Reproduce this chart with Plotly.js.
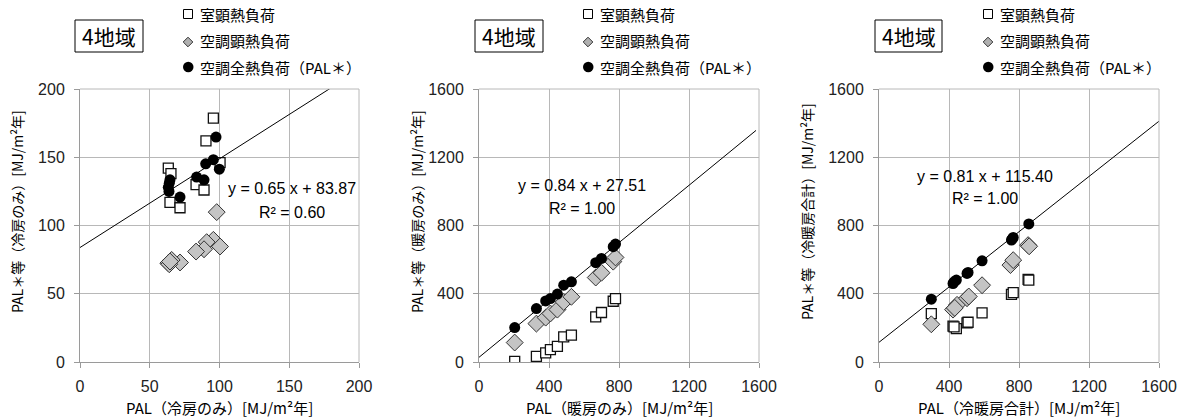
<!DOCTYPE html>
<html><head><meta charset="utf-8">
<script src="https://cdn.plot.ly/plotly-3.0.1.min.js"></script>
<style>html,body{margin:0;padding:0;background:#fff;}#c{width:1188px;height:420px;}</style>
</head><body><div id="c"></div>
<script>
// Panel 1: cooling only
const p1SqX = [95.6, 90.3, 100.4, 63.3, 65.2, 83.2, 88.9, 64.5, 71.7];
const p1SqY = [178.7, 162, 146, 142, 138, 130, 126, 117, 113];
const p1DiX = [98, 95.6, 90.8, 100.4, 88.9, 83.2, 71.7, 65.7, 63.3, 64.0, 64.5];
const p1DiY = [109.8, 89.5, 87.8, 84.6, 82.6, 80.9, 72.9, 74.8, 72.4, 71.6, 73.6];
const p1CiX = [97.5, 95.6, 90.1, 99.9, 83.6, 88.9, 64.5, 64.0, 63.3, 63.8, 71.7];
const p1CiY = [164.8, 148.2, 145.2, 141.3, 135.5, 133.5, 133.5, 131, 128, 125, 120.8];
const p1Fit = {slope: 0.65, intercept: 83.87, r2: "0.60", xEnd: 200};
// Panel 2: heating only
const p2X   = [204, 328, 381, 408, 448, 484, 528, 667, 700, 767, 780];
const p2SqY = [4, 33, 53, 72, 92, 147, 157, 264, 290, 356, 372];
const p2DiY = [114, 225, 260, 284, 307, 352, 382, 495, 523, 588, 613];
const p2CiY = [202, 313, 358, 372, 398, 450, 470, 582, 607, 676, 691];
const p2Fit = {slope: 0.84, intercept: 27.51, r2: "1.00", xEnd: 1583};
// Panel 3: heating + cooling total
const p3SqX = [299, 423, 442, 503, 509, 589, 757, 767, 852, 856, 429];
const p3SqY = [284, 210, 196, 229, 233, 288, 396, 407, 484, 480, 206];
const p3DiX = [299, 423, 446, 503, 513, 589, 751, 767, 852, 858, 433];
const p3DiY = [221, 307, 335, 374, 384, 450, 568, 597, 685, 678, 317];
const p3CiX = [299, 423, 442, 503, 509, 589, 757, 767, 856, 429, 763];
const p3CiY = [368, 460, 480, 519, 525, 593, 715, 730, 809, 470, 723];
const p3Fit = {slope: 0.81, intercept: 115.40, r2: "1.00", xEnd: 1600};

const seriesNames = ["室顕熱負荷", "空調顕熱負荷", "空調全熱負荷（PAL＊）"];
const xTitles = ["PAL（冷房のみ）[MJ/m²年]", "PAL（暖房のみ）[MJ/m²年]", "PAL（冷暖房合計）[MJ/m²年]"];
const yTitles = ["PAL＊等（冷房のみ）[MJ/m²年]", "PAL＊等（暖房のみ）[MJ/m²年]", "PAL＊等（冷暖房合計）[MJ/m²年]"];
const regionLabel = "4地域";
const ranges = [[0, 200], [0, 1600], [0, 1600]];
const dticks = [50, 400, 400];

const W = 1188, H = 420, T = 89, B = 58, PH = H - T - B;
const panelsPx = [[80, 359], [479, 759], [879, 1159]];
const py = p => (H - B - p) / PH;
const pxx = p => p / W;

const panels = [
  {sx: p1SqX, sy: p1SqY, dx: p1DiX, dy: p1DiY, cx: p1CiX, cy: p1CiY, fit: p1Fit},
  {sx: p2X, sy: p2SqY, dx: p2X, dy: p2DiY, cx: p2X, cy: p2CiY, fit: p2Fit},
  {sx: p3SqX, sy: p3SqY, dx: p3DiX, dy: p3DiY, cx: p3CiX, cy: p3CiY, fit: p3Fit}
];

const data = [];
const layout = {
  width: W, height: H, margin: {l: 0, r: 0, t: T, b: B},
  paper_bgcolor: "#fff", plot_bgcolor: "#fff", showlegend: false,
  annotations: [], shapes: []
};
const tickFont = {family: "Liberation Sans, Arial, sans-serif", size: 16, color: "#222"};
const cjk = "Noto Sans CJK JP, sans-serif";

panels.forEach((p, i) => {
  const xa = i === 0 ? "x" : "x" + (i + 1);
  const ya = i === 0 ? "y" : "y" + (i + 1);
  const common = {xaxis: xa, yaxis: ya, mode: "markers", type: "scatter", hoverinfo: "skip"};
  data.push(Object.assign({}, common, {x: p.sx, y: p.sy, name: seriesNames[0],
    marker: {symbol: "square", size: 10, color: "#fff", line: {color: "#111", width: 1.3}}}));
  data.push(Object.assign({}, common, {x: p.dx, y: p.dy, name: seriesNames[1],
    marker: {symbol: "diamond", size: 13, color: "#c4c4c4", line: {color: "#333", width: 1}}}));
  data.push(Object.assign({}, common, {x: p.cx, y: p.cy, name: seriesNames[2],
    marker: {symbol: "circle", size: 11, color: "#000", line: {color: "#000", width: 0}}}));
  const fx = [0, p.fit.xEnd];
  data.push({xaxis: xa, yaxis: ya, type: "scatter", mode: "lines", hoverinfo: "skip",
    x: fx, y: fx.map(v => p.fit.slope * v + p.fit.intercept),
    line: {color: "#000", width: 1}});

  const [l, r] = panelsPx[i];
  const axBase = {
    showgrid: true, gridcolor: "#b8b8b8", gridwidth: 1, zeroline: false,
    showline: true, linecolor: "#9a9a9a", linewidth: 1, mirror: false,
    ticks: "outside", ticklen: 5, tickcolor: "#9a9a9a", tickfont: tickFont,
    fixedrange: true
  };
  layout["xaxis" + (i === 0 ? "" : i + 1)] = Object.assign({}, axBase, {
    domain: [l / W, r / W], range: ranges[i], dtick: dticks[i], tick0: 0,
    anchor: ya, ticklabelstandoff: 5
  });
  layout["yaxis" + (i === 0 ? "" : i + 1)] = Object.assign({}, axBase, {
    domain: [0, 1], range: ranges[i], dtick: dticks[i], tick0: 0,
    anchor: xa, ticklabelstandoff: 6
  });
  layout.shapes.push({type: "line", xref: "paper", yref: "paper", x0: r / W, x1: r / W, y0: 0, y1: 1,
    line: {color: "#b8b8b8", width: 1}});
  layout.shapes.push({type: "line", xref: "paper", yref: "paper", x0: l / W, x1: r / W, y0: 1, y1: 1,
    line: {color: "#b8b8b8", width: 1}});

  const off = i * 400;
  const bx0 = 75 + off, bx1 = (i === 2 ? 942 : 143 + off);
  layout.shapes.push({type: "rect", xref: "paper", yref: "paper",
    x0: bx0 / W, x1: bx1 / W, y0: py(52), y1: py(20), line: {color: "#000", width: 1}});
  layout.annotations.push({xref: "paper", yref: "paper", x: (bx0 + bx1) / 2 / W, y: py(36),
    text: regionLabel, showarrow: false, xanchor: "center", yanchor: "middle",
    font: {family: cjk, size: 21, color: "#000"}});
  // legend symbols (drawn as shapes)
  const lx = 183 + (i === 2 ? 800 : off);
  layout.shapes.push({type: "rect", xref: "paper", yref: "paper",
    x0: pxx(lx + 0.5), x1: pxx(lx + 9.5), y0: py(18.5), y1: py(9.5),
    line: {color: "#000", width: 1}, fillcolor: "#fff"});
  const dcx = lx + 5, dcy = 42, dh = 4.8;
  layout.shapes.push({type: "path", xref: "paper", yref: "paper",
    path: `M ${pxx(dcx - dh)} ${py(dcy)} L ${pxx(dcx)} ${py(dcy - dh)} L ${pxx(dcx + dh)} ${py(dcy)} L ${pxx(dcx)} ${py(dcy + dh)} Z`,
    line: {color: "#333", width: 1}, fillcolor: "#b0b0b0"});
  layout.shapes.push({type: "circle", xref: "paper", yref: "paper",
    x0: pxx(lx), x1: pxx(lx + 10.5), y0: py(72.3), y1: py(61.8),
    line: {color: "#000", width: 0}, fillcolor: "#000"});
  const tx = lx + 15;
  layout.annotations.push({xref: "paper", yref: "paper", x: tx / W, y: py(14), xanchor: "left", yanchor: "middle",
    text: seriesNames[0], showarrow: false, font: {family: cjk, size: 15, color: "#000"}});
  layout.annotations.push({xref: "paper", yref: "paper", x: tx / W, y: py(41), xanchor: "left", yanchor: "middle",
    text: seriesNames[1], showarrow: false, font: {family: cjk, size: 15, color: "#000"}});
  layout.annotations.push({xref: "paper", yref: "paper", x: tx / W, y: py(67), xanchor: "left", yanchor: "middle",
    text: seriesNames[2], showarrow: false, font: {family: cjk, size: 15, color: "#000"}});
  // axis titles
  layout.annotations.push({xref: "paper", yref: "paper", x: (l + r) / 2 / W, y: py(407), xanchor: "center", yanchor: "middle",
    text: xTitles[i], showarrow: false, font: {family: cjk, size: 15, color: "#000"}});
  layout.annotations.push({xref: "paper", yref: "paper", x: (17 + (i === 2 ? 790 : off)) / W, y: py(212), xanchor: "center", yanchor: "middle",
    text: yTitles[i], textangle: -90, showarrow: false, font: {family: cjk, size: 14, color: "#000"}});
  // fit equations
  const eqPos = [[292, 188, 212], [582, 185, 208], [985, 176, 198]][i];
  const sign = p.fit.intercept >= 0 ? "+" : "-";
  layout.annotations.push({xref: "paper", yref: "paper", x: eqPos[0] / W, y: py(eqPos[1]), xanchor: "center", yanchor: "middle",
    text: "y = " + p.fit.slope.toFixed(2) + " x " + sign + " " + Math.abs(p.fit.intercept).toFixed(2),
    showarrow: false, font: {family: "Liberation Sans, Arial, sans-serif", size: 16, color: "#000"}});
  layout.annotations.push({xref: "paper", yref: "paper", x: eqPos[0] / W, y: py(eqPos[2]), xanchor: "center", yanchor: "middle",
    text: "R² = " + p.fit.r2, showarrow: false, font: {family: "Liberation Sans, Arial, sans-serif", size: 16, color: "#000"}});
});

Plotly.newPlot("c", data, layout, {staticPlot: true, displayModeBar: false});
</script></body></html>
